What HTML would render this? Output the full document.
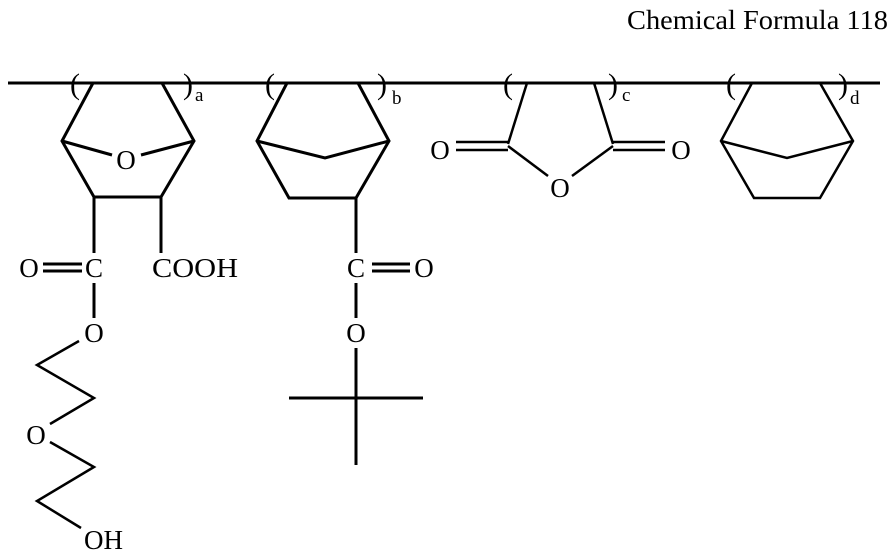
<!DOCTYPE html>
<html><head><style>body{margin:0;background:#fff}svg{display:block}text{font-family:"Liberation Serif",serif;fill:#000}</style></head>
<body>
<svg width="891" height="551" viewBox="0 0 891 551" xmlns="http://www.w3.org/2000/svg">
<text x="888" y="29" font-size="27" text-anchor="end" textLength="261" lengthAdjust="spacingAndGlyphs">Chemical Formula 118</text>
<g stroke="#000" stroke-width="3" fill="none" stroke-linejoin="miter">
<line x1="8" y1="83" x2="880" y2="83"/>
<polyline points="93,83 62,141 94,197 161,197 194,141 162,83"/>
<line x1="62" y1="141" x2="112" y2="155"/><line x1="141" y1="155" x2="194" y2="141"/>
<line x1="94" y1="197" x2="94" y2="253"/><line x1="161" y1="197" x2="161" y2="253"/>
<line x1="43" y1="264" x2="82" y2="264"/><line x1="43" y1="271" x2="82" y2="271"/>
<line x1="94" y1="283" x2="94" y2="318"/>
<polyline points="79,341 37,365 94,398 50,424" stroke-width="2.5"/>
<polyline points="50,442 94,467 37,501 81,528" stroke-width="2.5"/>
<polyline points="287,83 257,141 289,198 356,198 389,141 358,83"/>
<polyline points="257,141 325,158 389,141"/>
<line x1="356" y1="198" x2="356" y2="253"/>
<line x1="372" y1="264" x2="410" y2="264"/><line x1="372" y1="271" x2="410" y2="271"/>
<line x1="356" y1="283" x2="356" y2="318"/>
<line x1="356" y1="348" x2="356" y2="465"/>
<line x1="289" y1="398" x2="423" y2="398"/>
<g stroke-width="2.5">
<line x1="527" y1="83" x2="508" y2="144"/><line x1="594" y1="83" x2="613" y2="144"/>
<line x1="456" y1="142" x2="508" y2="142"/><line x1="456" y1="150" x2="508" y2="150"/>
<line x1="613" y1="142" x2="665" y2="142"/><line x1="613" y1="150" x2="665" y2="150"/>
<line x1="508" y1="146" x2="548" y2="176"/><line x1="572" y1="176" x2="613" y2="146"/>
<polyline points="752,83 721,141 754,198 820,198 853,141 820,83"/>
<polyline points="721,141 787,158 853,141"/>
</g>
</g>
<g font-size="30">
<text x="75" y="94" text-anchor="middle">(</text><text x="188" y="94" text-anchor="middle">)</text>
<text x="270" y="94" text-anchor="middle">(</text><text x="382" y="94" text-anchor="middle">)</text>
<text x="508" y="94" text-anchor="middle">(</text><text x="613" y="94" text-anchor="middle">)</text>
<text x="731" y="94" text-anchor="middle">(</text><text x="843" y="94" text-anchor="middle">)</text>
</g>
<g font-size="19">
<text x="195" y="101">a</text><text x="392" y="104">b</text><text x="622" y="101">c</text><text x="850" y="104">d</text>
</g>
<g font-size="27" text-anchor="middle">
<text x="126" y="169">O</text>
<text x="29" y="277">O</text><text x="94" y="277">C</text>
<text x="152" y="277" text-anchor="start" textLength="86" lengthAdjust="spacingAndGlyphs">COOH</text>
<text x="94" y="342">O</text>
<text x="36" y="444">O</text>
<text x="84" y="549" text-anchor="start">OH</text>
<text x="356" y="277">C</text><text x="424" y="277">O</text>
<text x="356" y="342">O</text>
<text x="440" y="159">O</text><text x="681" y="159">O</text><text x="560" y="197">O</text>
</g>
</svg>
</body></html>
